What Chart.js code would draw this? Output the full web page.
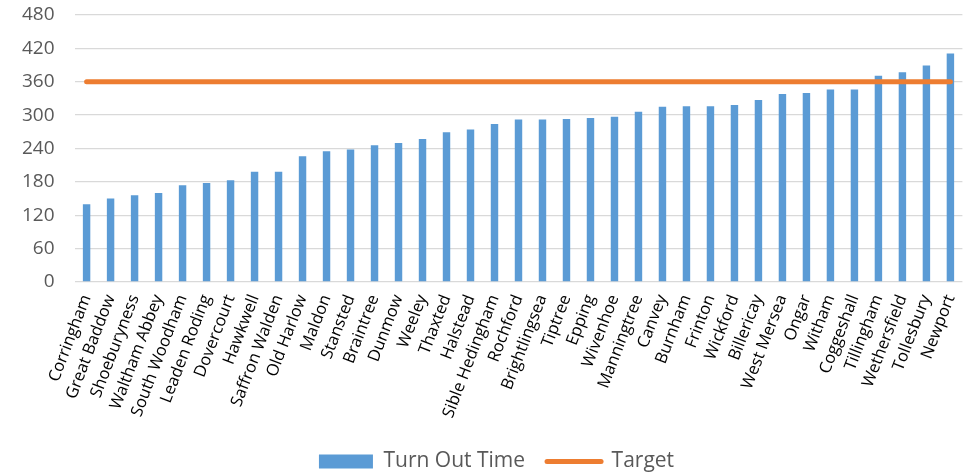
<!DOCTYPE html>
<html>
<head>
<meta charset="utf-8">
<script src="https://cdn.jsdelivr.net/npm/chart.js@4"></script>
<style>
    body { margin: 0; background: #fff; }
    #graphique { display: block; }
</style>
</head>
<body>
<canvas id="graphique" width="971" height="474"></canvas>
<script>
// Stations, triées par temps de départ
const stations = ['Corringham', 'Great Baddow', 'Shoeburyness', 'Waltham Abbey', 'South Woodham', 'Leaden Roding',
    'Dovercourt', 'Hawkwell', 'Saffron Walden', 'Old Harlow', 'Maldon', 'Stansted', 'Braintree', 'Dunmow',
    'Weeley', 'Thaxted', 'Halstead', 'Sible Hedingham', 'Rochford', 'Brightlingsea', 'Tiptree', 'Epping',
    'Wivenhoe', 'Manningtree', 'Canvey', 'Burnham', 'Frinton', 'Wickford', 'Billericay', 'West Mersea',
    'Ongar', 'Witham', 'Coggeshall', 'Tillingham', 'Wethersfield', 'Tollesbury', 'Newport'];
const turnOutTime = [140, 150, 156, 160, 174, 178, 183, 198, 198, 226, 235, 238, 246, 250, 257, 269, 274, 284,
    292, 292, 293, 295, 297, 306, 315, 316, 316, 318, 327, 338, 340, 346, 346, 371, 377, 389, 411];
const target = 360;
const yTicks = [0, 60, 120, 180, 240, 300, 360, 420, 480];

const bleu = '#5B9BD5';
const orange = '#ED7D31';

/**
 * Légende : un rectangle pour les barres, un trait épais pour la cible
 */
function genererLegende(chart) {
    return chart.data.datasets.map((ds, i) => ({
        text: ds.label,
        datasetIndex: i,
        hidden: !chart.isDatasetVisible(i),
        fillStyle: i === 0 ? bleu : orange,
        strokeStyle: i === 0 ? bleu : orange,
        lineWidth: i === 0 ? 0 : 5,
        lineCap: 'round',
        pointStyle: i === 0 ? 'rect' : 'line',
        fontColor: '#595959'
    }));
}

/**
 * Décale un peu la légende vers la droite, centrée sous les barres
 */
const decalerLegende = {
    id: 'decalerLegende',
    afterLayout(chart) {
        if (chart.legend) {
            chart.legend.left += 14;
            chart.legend.right += 14;
        }
    }
};

const ctx = document.getElementById('graphique').getContext('2d');
new Chart(ctx, {
    type: 'bar',
    data: {
        labels: stations,
        datasets: [
            {
                label: 'Turn Out Time',
                data: turnOutTime,
                backgroundColor: bleu,
                borderWidth: 0,
                barPercentage: 0.31,
                categoryPercentage: 1,
                order: 2
            },
            {
                type: 'line',
                label: 'Target',
                data: stations.map(() => target),
                borderColor: orange,
                backgroundColor: orange,
                borderWidth: 5,
                borderCapStyle: 'round',
                pointRadius: 0,
                fill: false,
                order: 1
            }
        ]
    },
    options: {
        responsive: false,
        animation: false,
        layout: {
            padding: {left: 2, right: 8, top: 15, bottom: -8}
        },
        scales: {
            x: {
                grid: {display: false},
                border: {display: false},
                // hauteur fixe pour que l'axe tombe au même endroit
                afterFit: (scale) => {
                    scale.height = 147;
                },
                ticks: {
                    autoSkip: false,
                    minRotation: 69,
                    maxRotation: 69,
                    color: '#000',
                    padding: 2,
                    font: {family: 'Open Sans', size: 16.5}
                }
            },
            y: {
                min: 0,
                max: 480,
                afterBuildTicks: (axis) => {
                    axis.ticks = yTicks.map(v => ({value: v}));
                },
                // le padding des ticks ne doit pas décaler le haut du graphique
                afterFit: (scale) => {
                    scale.paddingTop = 0;
                },
                grid: {color: '#D9D9D9', lineWidth: 1.3, drawTicks: false},
                border: {display: false},
                ticks: {
                    color: '#595959',
                    padding: 20,
                    font: {family: 'Open Sans', size: 19}
                }
            }
        },
        plugins: {
            legend: {
                position: 'bottom',
                labels: {
                    usePointStyle: true,
                    pointStyleWidth: 54,
                    boxHeight: 14,
                    padding: 22,
                    color: '#595959',
                    font: {family: 'Open Sans', size: 21},
                    generateLabels: genererLegende
                }
            },
            tooltip: {enabled: false}
        }
    },
    plugins: [decalerLegende]
});
</script>
</body>
</html>
